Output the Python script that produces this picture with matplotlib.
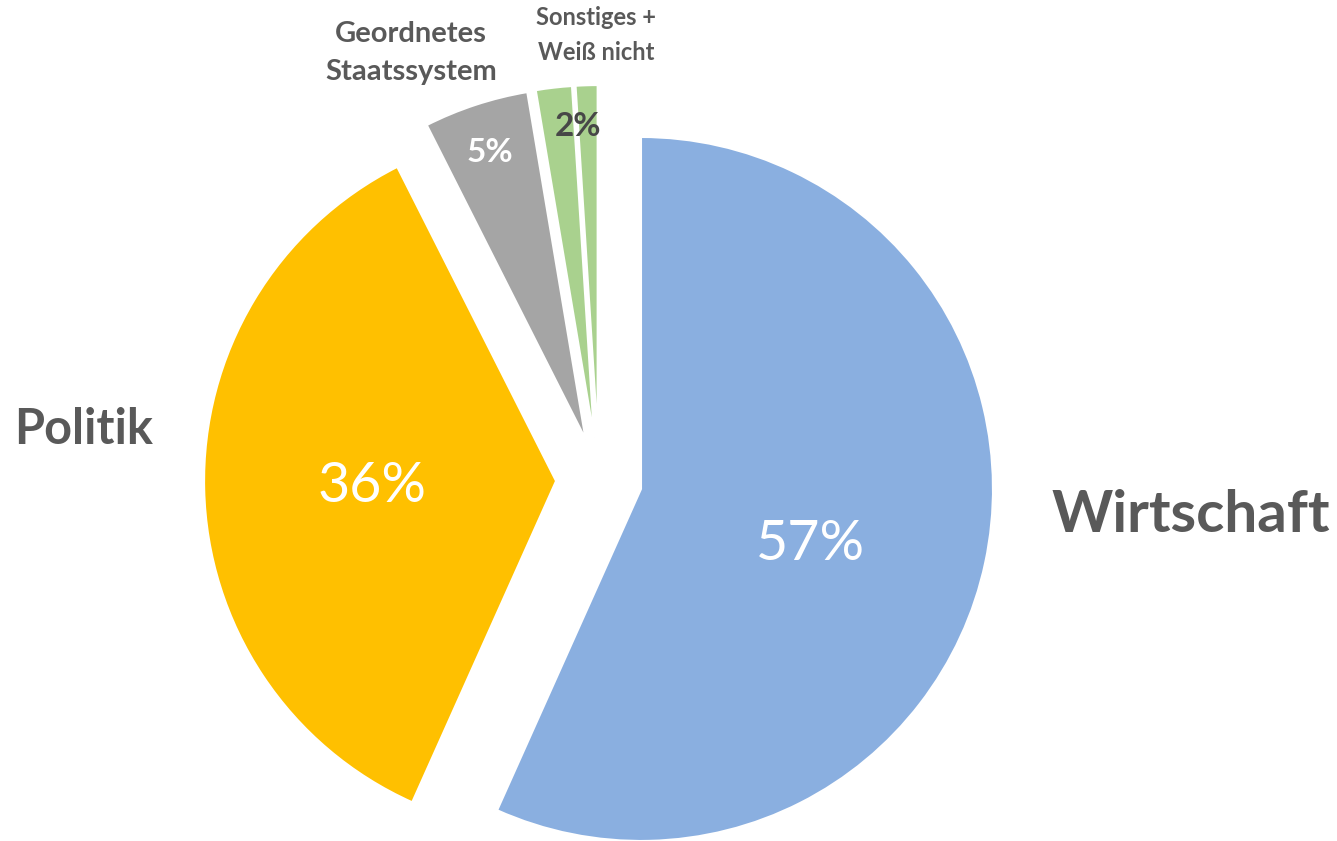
import matplotlib
matplotlib.use("Agg")
import matplotlib.pyplot as plt

labels = ["Wirtschaft", "Politik", "Geordnetes\nStaatssystem", "Sonstiges", "Weiß nicht"]
values = [56.7, 35.85, 4.8, 1.65, 1.0]
pct_text = ["57%", "36%", "5%", "2%"]
colors = ["#8AAFE0", "#FFC000", "#A5A5A5", "#A9D18E", "#A9D18E"]
explode = [0.122, 0.122, 0.122, 0.122, 0.122]

W, H, R = 1337, 841, 352.0
CX, CY = 599, 480  # pie centre in pixels

def px(x, y):
    return (x - CX) / R, (CY - y) / R

plt.rcParams["font.family"] = ["Lato", "DejaVu Sans"]
fig = plt.figure(figsize=(W / 100, H / 100), dpi=100)
ax = fig.add_axes([0, 0, 1, 1])
ax.pie(values, colors=colors, explode=explode, startangle=90, counterclock=False,
       radius=1, wedgeprops=dict(edgecolor="white", linewidth=1.5))
ax.set_xlim(-CX / R, (W - CX) / R)
ax.set_ylim(-(H - CY) / R, CY / R)
ax.set_aspect("equal")
ax.axis("off")

grey = "#595959"
# percentages
ax.text(*px(810, 545), pct_text[0], color="white", fontsize=40, ha="center", va="center")
ax.text(*px(372, 487), pct_text[1], color="white", fontsize=40, ha="center", va="center")
ax.text(*px(490, 152), pct_text[2], color="white", fontsize=24, fontweight="bold", ha="center", va="center")
ax.text(*px(578, 127), pct_text[3], color="#474747", fontsize=24, fontweight="bold", ha="center", va="center")
# category labels
ax.text(*px(1191, 515), labels[0], color=grey, fontsize=42, fontweight="bold", ha="center", va="center")
ax.text(*px(84, 430), labels[1], color=grey, fontsize=35, fontweight="bold", ha="center", va="center")
ax.text(*px(411, 53), labels[2], color=grey, fontsize=21, fontweight="bold", ha="center", va="center",
        linespacing=1.55)
ax.text(*px(596, 35), "Sonstiges +\nWeiß nicht", color=grey, fontsize=17, fontweight="bold",
        ha="center", va="center", linespacing=1.6)

fig.savefig("out.png", dpi=100, facecolor="white")
